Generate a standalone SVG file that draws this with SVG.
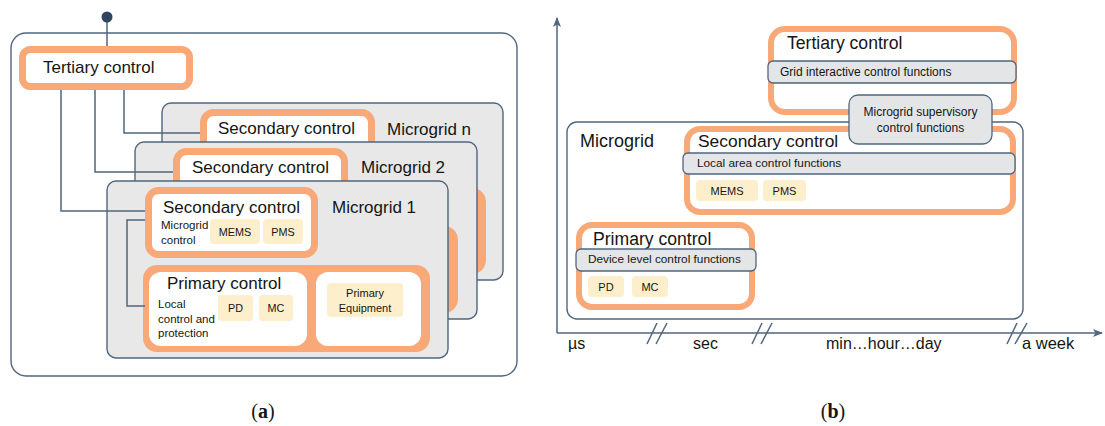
<svg xmlns="http://www.w3.org/2000/svg" width="1105" height="426" viewBox="0 0 1105 426">
<defs>
<style>
text{font-family:"Liberation Sans",Arial,sans-serif;fill:#151515}
.slate{fill:none;stroke:#50657F;stroke-width:1.4}
.mg{fill:#E8E8E8;stroke:#50657F;stroke-width:1.4}
.orng{fill:#FFFFFF;stroke:#F9A878;stroke-width:7}
.orng6{fill:#FFFFFF;stroke:#F9A878;stroke-width:6}
.ofill{fill:#F9A878}
.white{fill:#FFFFFF}
.yel{fill:#FDEFCB}
.fn{fill:#E4E5E7;stroke:#50657F;stroke-width:1.3}
.conn{fill:none;stroke:#50657F;stroke-width:1.5}
.big{font-size:17px}
.sm{font-size:11.5px}
.fnt{font-size:11.8px}
.ax{font-size:16px}
.mid{text-anchor:middle}
.cap{font-family:"Liberation Serif","Times New Roman",serif;font-size:20px}
</style>
<marker id="arr" viewBox="0 0 10 8" refX="9" refY="4" markerWidth="10" markerHeight="8" markerUnits="userSpaceOnUse" orient="auto">
<path d="M0,0 L10,4 L0,8 L2.5,4 z" fill="#50657F"/>
</marker>
</defs>

<!-- Panel (a) -->
<g id="outer-a">
<rect x="11" y="33" width="506" height="343" rx="15" class="slate"/>
</g>

<g id="microgrid-n">
<rect x="162" y="103" width="341" height="177" rx="9" class="mg"/>
<rect x="430" y="188" width="56" height="86" rx="14" class="ofill"/>
<rect x="203.5" y="112.5" width="168" height="64" rx="10" class="orng"/>
<text x="218" y="134" class="big">Secondary control</text>
<text x="387" y="135" class="big">Microgrid n</text>
</g>

<g id="microgrid-2">
<rect x="135" y="142" width="342" height="177" rx="9" class="mg"/>
<rect x="400" y="226" width="58" height="87" rx="14" class="ofill"/>
<rect x="176.5" y="151.5" width="168" height="64" rx="10" class="orng"/>
<text x="192" y="173" class="big">Secondary control</text>
<text x="361" y="173" class="big">Microgrid 2</text>
</g>

<g id="microgrid-1">
<rect x="107" y="181" width="341" height="177" rx="9" class="mg"/>
<text x="332" y="213" class="big">Microgrid 1</text>
</g>

<g id="secondary-1">
<rect x="148.5" y="190.5" width="166" height="64" rx="10" class="orng"/>
<text x="163" y="213" class="big">Secondary control</text>
<text x="161" y="229" class="sm">Microgrid</text>
<text x="161" y="244" class="sm">control</text>
<rect x="210" y="219" width="50" height="25" rx="4" class="yel"/>
<text x="235" y="236" class="sm mid" style="font-size:10.8px">MEMS</text>
<rect x="263" y="219" width="40" height="25" rx="4" class="yel"/>
<text x="283" y="236" class="sm mid" style="font-size:10.8px">PMS</text>
</g>

<g id="primary-1">
<rect x="143" y="265" width="287" height="87" rx="14" class="ofill"/>
<rect x="149" y="272" width="158" height="74" rx="12" class="white"/>
<text x="167" y="289" class="big">Primary control</text>
<text x="158" y="308" class="sm">Local</text>
<text x="158" y="323" class="sm">control and</text>
<text x="158" y="337" class="sm">protection</text>
<rect x="218" y="295" width="35" height="26" rx="4" class="yel"/>
<text x="235.5" y="312" class="sm mid" style="font-size:10.8px">PD</text>
<rect x="259" y="295" width="34" height="26" rx="4" class="yel"/>
<text x="276" y="312" class="sm mid" style="font-size:10.8px">MC</text>
</g>

<g id="primary-equipment-1">
<rect x="316" y="272" width="105" height="74" rx="12" class="white"/>
<rect x="327" y="283" width="76" height="34" rx="4" class="yel"/>
<text x="365" y="297" class="mid" style="font-size:11px">Primary</text>
<text x="365" y="312" class="mid" style="font-size:11px">Equipment</text>
</g>

<g id="tertiary-a">
<rect x="22.5" y="49.5" width="167" height="37" rx="8" class="orng"/>
<text x="43" y="73" class="big">Tertiary control</text>
</g>

<g id="connectors-a">
<line x1="107" y1="20" x2="107" y2="46" class="conn"/>
<circle cx="107" cy="17" r="5.5" fill="#2E4560"/>
<polyline points="61,90 61,211 145,211" class="conn"/>
<polyline points="95,90 95,172 173,172" class="conn"/>
<polyline points="124,90 124,133 200,133" class="conn"/>
<polyline points="145,220 127,220 127,306 145,306" class="conn"/>
</g>

<!-- Panel (b) -->
<g id="tertiary-b">
<rect x="771" y="29" width="243" height="83" rx="14" class="orng6"/>
<text x="787" y="49" class="big" style="font-size:17.6px">Tertiary control</text>
<rect x="768" y="61" width="248" height="22" rx="5" class="fn"/>
<text x="780" y="76" style="font-size:12px">Grid interactive control functions</text>
</g>

<g id="microgrid-b">
<rect x="567" y="122" width="456" height="197" rx="10" class="slate" style="fill:#FFFFFF"/>
<text x="580" y="147" style="font-size:18px">Microgrid</text>
</g>

<g id="secondary-b">
<rect x="687" y="129" width="326" height="83" rx="13" class="orng6"/>
<text x="698" y="147" style="font-size:17.4px">Secondary control</text>
<rect x="683" y="153" width="332" height="21" rx="5" class="fn"/>
<text x="697" y="167" class="fnt">Local area control functions</text>
<rect x="696" y="180" width="62" height="21" rx="4" class="yel"/>
<text x="727" y="195" class="mid" style="font-size:11px">MEMS</text>
<rect x="763" y="180" width="43" height="21" rx="4" class="yel"/>
<text x="784.5" y="195" class="mid" style="font-size:11px">PMS</text>
</g>

<g id="supervisory-b">
<rect x="849" y="95" width="143" height="49" rx="9" class="fn"/>
<text x="920.5" y="116" class="mid" style="font-size:12px">Microgrid supervisory</text>
<text x="920.5" y="132" class="mid" style="font-size:12px">control functions</text>
</g>

<g id="primary-b">
<rect x="579" y="225" width="173" height="82" rx="13" class="orng6"/>
<text x="593" y="245" style="font-size:17.6px">Primary control</text>
<rect x="576" y="249" width="180" height="22" rx="5" class="fn"/>
<text x="588" y="263" class="fnt">Device level control functions</text>
<rect x="588" y="276" width="36" height="21" rx="4" class="yel"/>
<text x="606" y="291" class="mid" style="font-size:11px">PD</text>
<rect x="632" y="276" width="36" height="21" rx="4" class="yel"/>
<text x="650" y="291" class="mid" style="font-size:11px">MC</text>
</g>

<g id="axes-b">
<line x1="557" y1="333" x2="557" y2="18" class="conn" marker-end="url(#arr)"/>
<line x1="557" y1="333" x2="1102" y2="333" class="conn" marker-end="url(#arr)"/>
<line x1="647" y1="344" x2="657" y2="323" class="conn"/>
<line x1="656" y1="344" x2="667" y2="323" class="conn"/>
<line x1="752" y1="344" x2="762" y2="323" class="conn"/>
<line x1="761" y1="344" x2="772" y2="323" class="conn"/>
<line x1="1007" y1="344" x2="1017" y2="323" class="conn"/>
<line x1="1015" y1="344" x2="1027" y2="323" class="conn"/>
<text x="568" y="349" class="ax">µs</text>
<text x="693" y="349" class="ax">sec</text>
<text x="826" y="349" class="ax">min…hour…day</text>
<text x="1022" y="349" class="ax" style="font-size:16.5px">a week</text>
</g>

<g id="captions">
<text x="263" y="418" class="cap mid">(<tspan font-weight="bold">a</tspan>)</text>
<text x="833" y="418" class="cap mid">(<tspan font-weight="bold">b</tspan>)</text>
</g>
</svg>
